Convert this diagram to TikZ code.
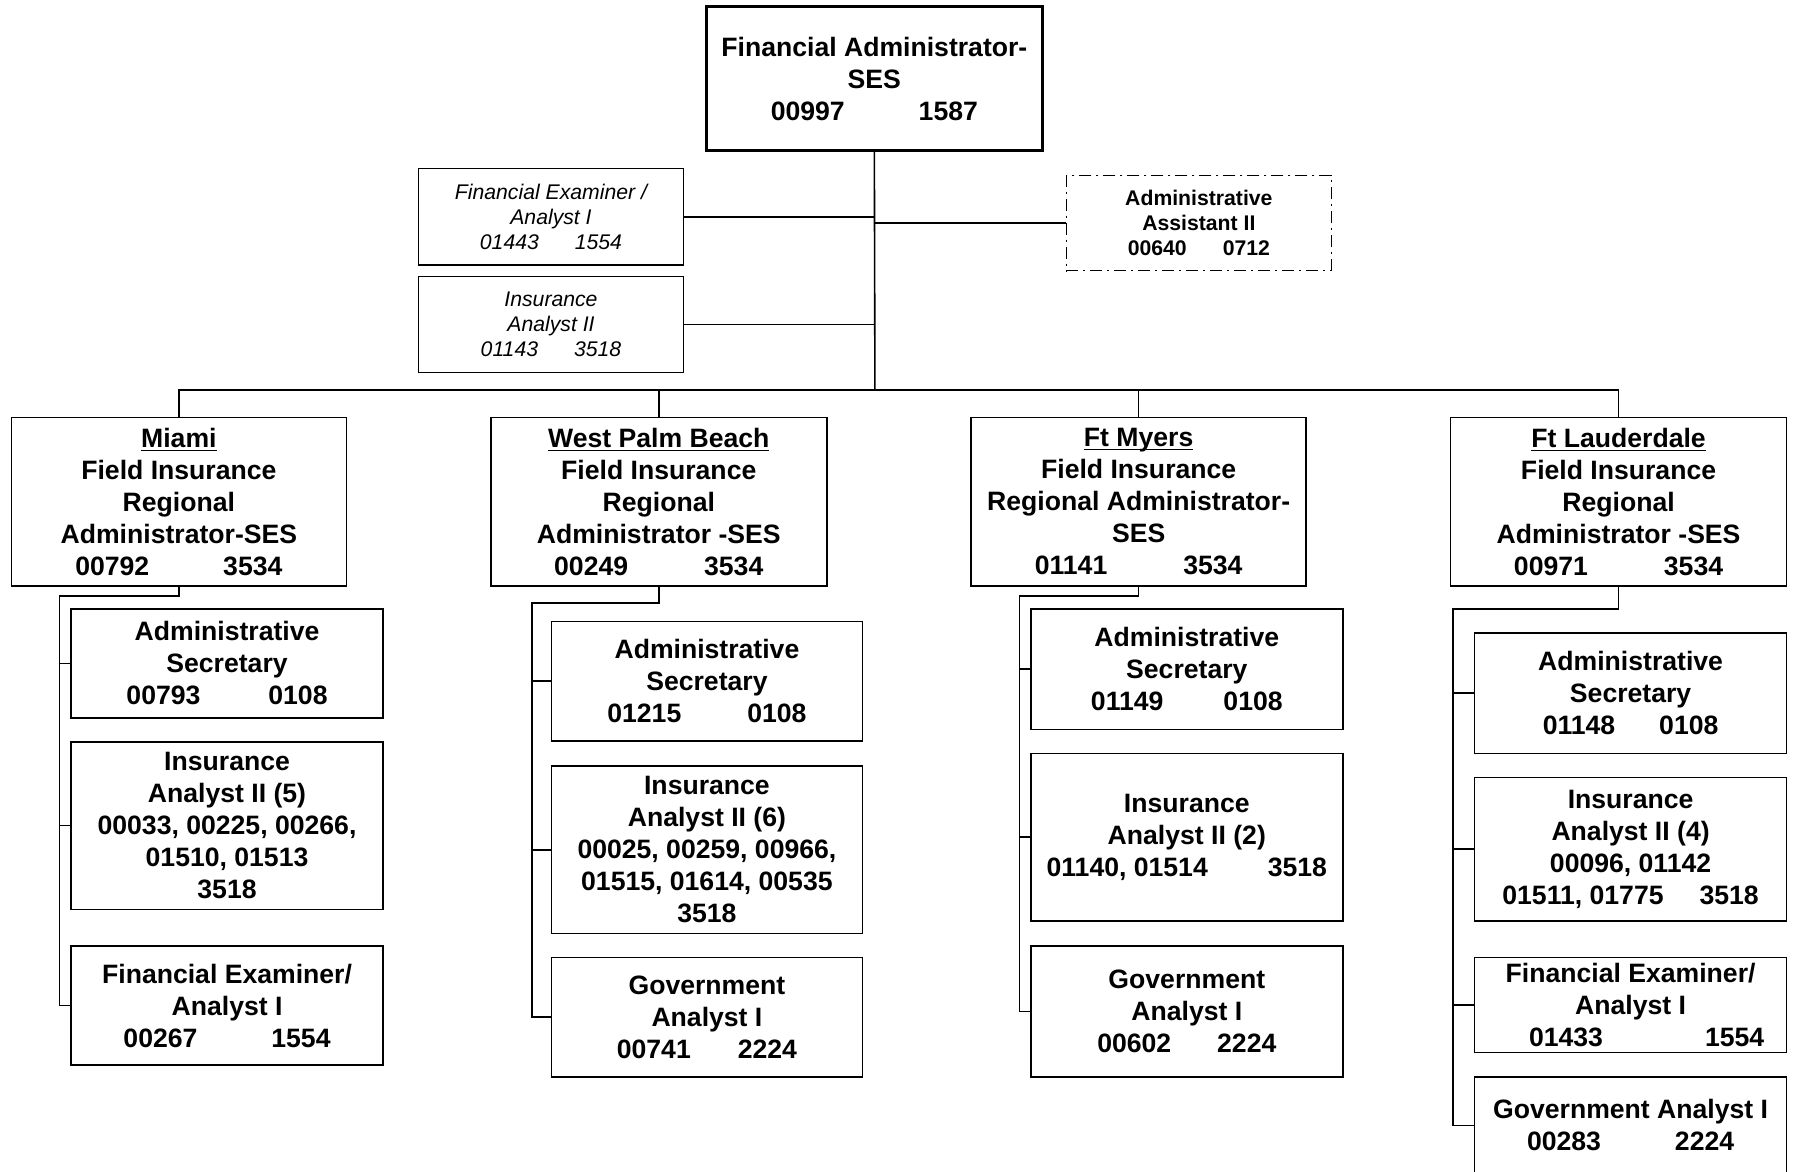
\documentclass[tikz,border=0pt]{standalone}
\usepackage{fontspec}
\setmainfont{Liberation Sans}
% underline that ignores descenders but keeps the line height
\newcommand{\cityname}[1]{\underline{\smash{#1}}\vphantom{#1}}
\begin{document}
\begin{tikzpicture}[x=0.5733pt,y=-0.5733pt,
  wh/.style 2 args={minimum width=#1*0.5733pt, minimum height=#2*0.5733pt},
  box/.style={draw, line width=0.8pt, rectangle, inner sep=0pt, align=center,
    font=\fontsize{13.3}{16}\selectfont\bfseries},
  topbox/.style={box, line width=1.5pt},
  smallbox/.style={draw, line width=0.8pt, rectangle, inner sep=0pt, align=center,
    font=\fontsize{10.6}{12.6}\selectfont\itshape},
  assistbox/.style={draw, line width=0.8pt, rectangle, inner sep=0pt, align=center,
    dash pattern=on 6pt off 2.5pt on 1pt off 2.5pt,
    font=\fontsize{10.6}{12.6}\selectfont\bfseries},
  conn/.style={draw, line width=0.8pt}]
\useasboundingbox (0,0) rectangle (1568,1022);

% Head office
\node[topbox, wh={293}{125}] (top) at (762.5,68.5)
  {Financial Administrator-\\SES\\00997\hspace{37pt}1587};
\node[smallbox, wh={231}{84}] (hfe) at (480.5,189)
  {Financial Examiner /\\Analyst I\\01443\hspace{18pt}1554};
\node[smallbox, wh={231}{84}] (hia) at (480.5,283)
  {Insurance\\Analyst II\\01143\hspace{18pt}3518};
\node[assistbox, wh={231}{83}] (haa) at (1045.5,194.5)
  {Administrative\\Assistant II\\00640\hspace{18pt}0712};

% Regional offices
\node[box, wh={292}{147}] (mia) at (156,437.5)
  {\cityname{Miami}\\Field Insurance\\Regional\\Administrator-SES\\00792\hspace{37pt}3534};
\node[box, wh={293}{147}] (wpb) at (574.5,437.5)
  {\cityname{West Palm Beach}\\Field Insurance\\Regional\\Administrator -SES\\00249\hspace{38pt}3534};
\node[box, wh={292}{147}] (ftm) at (993,437.5)
  {\cityname{Ft Myers}\\Field Insurance\\Regional Administrator-\\SES\\01141\hspace{38pt}3534};
\node[box, wh={293}{147}] (ftl) at (1411.5,437.5)
  {\cityname{Ft Lauderdale}\\Field Insurance\\Regional\\Administrator -SES\\00971\hspace{38pt}3534};

% Miami staff
\node[box, wh={272}{95}] (mas) at (198,578.5)
  {Administrative\\Secretary\\00793\hspace{34pt}0108};
\node[box, wh={272}{146}] (mia2) at (198,720)
  {Insurance\\Analyst II (5)\\00033, 00225, 00266,\\01510, 01513\\3518};
\node[box, wh={272}{104}] (mfe) at (198,877)
  {Financial Examiner/\\Analyst I\\00267\hspace{37pt}1554};

% West Palm Beach staff
\node[box, wh={271}{104}] (was) at (616.5,594)
  {Administrative\\Secretary\\01215\hspace{33pt}0108};
\node[box, wh={271}{146}] (wia) at (616.5,741)
  {Insurance\\Analyst II (6)\\00025, 00259, 00966,\\01515, 01614, 00535\\3518};
\node[box, wh={271}{104}] (wga) at (616.5,887)
  {Government\\Analyst I\\00741\hspace{23.5pt}2224};

% Ft Myers staff
\node[box, wh={272}{105}] (fas) at (1035,583.5)
  {Administrative\\Secretary\\01149\hspace{30pt}0108};
\node[box, wh={272}{146}] (fia) at (1035,730)
  {Insurance\\Analyst II (2)\\01140, 01514\hspace{30pt}3518};
\node[box, wh={272}{114}] (fga) at (1035,882)
  {Government\\Analyst I\\00602\hspace{23pt}2224};

% Ft Lauderdale staff
\node[box, wh={272}{105}] (las) at (1422,604.5)
  {Administrative\\Secretary\\01148\hspace{22pt}0108};
\node[box, wh={272}{125}] (lia) at (1422,740.5)
  {Insurance\\Analyst II (4)\\00096, 01142\\01511, 01775\hspace{18pt}3518};
\node[box, wh={272}{83}] (lfe) at (1422,876.5)
  {Financial Examiner/\\Analyst I\\\hspace*{16pt}01433\hspace{51pt}1554};
\node[box, wh={272}{85}] (lga) at (1422,981.5)
  {Government Analyst I\\00283\hspace{37pt}2224};

% Head office connectors
\coordinate (trunk) at (763,340);
\coordinate (bus) at (0,340);
\draw[conn] (top.south) -- (trunk);
\draw[conn] (hfe.east) -- (hfe.east -| trunk);
\draw[conn] (hia.east) -- (hia.east -| trunk);
\draw[conn] (haa.west) -- (haa.west -| trunk);
\draw[conn] (mia.north) -- (mia.north |- bus) -- (ftl.north |- bus) -- (ftl.north);
\draw[conn] (wpb.north) -- (wpb.north |- bus);
\draw[conn] (ftm.north) -- (ftm.north |- bus);

% Miami rail
\coordinate (mr) at (52,520);
\draw[conn] (mia.south) -- (mia.south |- mr) -| (mfe.west -| mr) -- (mfe.west);
\draw[conn] (mas.west) -- (mas.west -| mr);
\draw[conn] (mia2.west) -- (mia2.west -| mr);

% West Palm Beach rail
\coordinate (wr) at (464,526);
\draw[conn] (wpb.south) -- (wpb.south |- wr) -| (wga.west -| wr) -- (wga.west);
\draw[conn] (was.west) -- (was.west -| wr);
\draw[conn] (wia.west) -- (wia.west -| wr);

% Ft Myers rail
\coordinate (fr) at (889,520);
\draw[conn] (ftm.south) -- (ftm.south |- fr) -| (fga.west -| fr) -- (fga.west);
\draw[conn] (fas.west) -- (fas.west -| fr);
\draw[conn] (fia.west) -- (fia.west -| fr);

% Ft Lauderdale rail
\coordinate (lr) at (1267,531);
\draw[conn] (ftl.south) -- (ftl.south |- lr) -| (lga.west -| lr) -- (lga.west);
\draw[conn] (las.west) -- (las.west -| lr);
\draw[conn] (lia.west) -- (lia.west -| lr);
\draw[conn] (lfe.west) -- (lfe.west -| lr);
\end{tikzpicture}
\end{document}
